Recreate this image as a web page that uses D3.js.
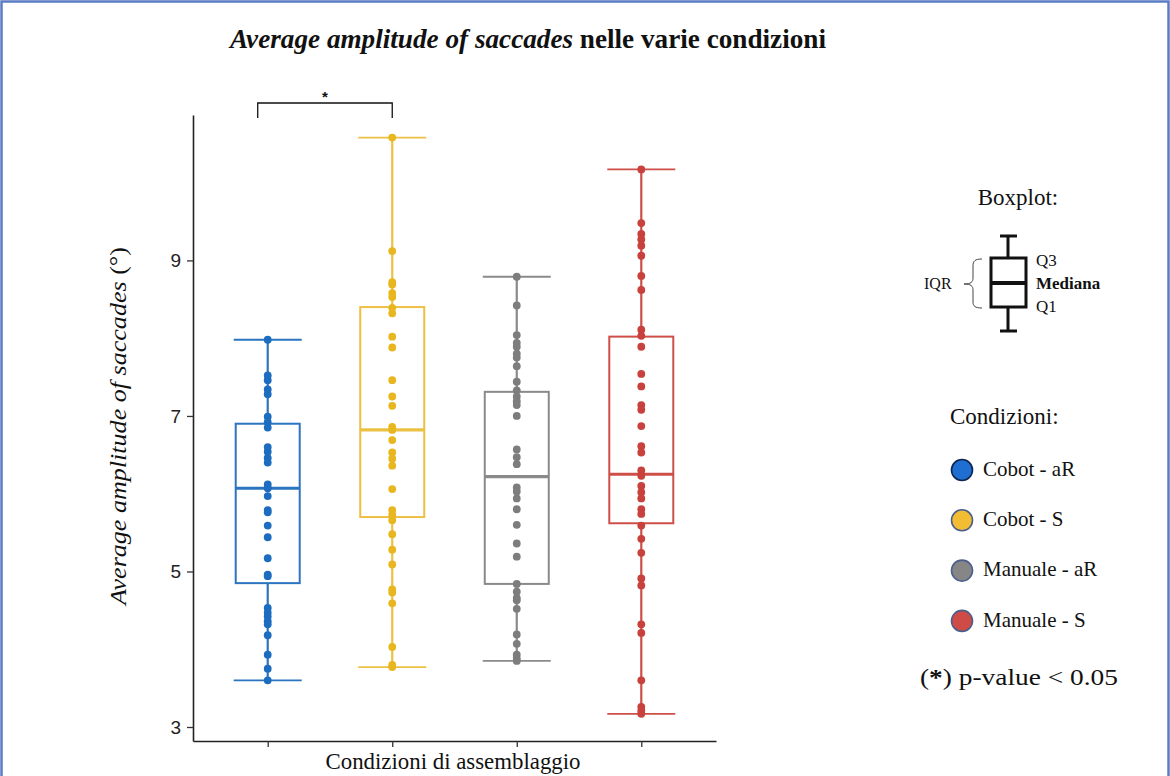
<!DOCTYPE html>
<html>
<head>
<meta charset="utf-8">
<script src="https://cdn.jsdelivr.net/npm/d3@7"></script>
<style>
  html, body { margin: 0; padding: 0; background: #ffffff; }
  svg { display: block; }
</style>
</head>
<body>
<svg id="chart" width="1170" height="776"></svg>
<script>
// Assembly conditions
const categories = ["Cobot - aR", "Cobot - S", "Manuale - aR", "Manuale - S"];

// Individual observations (average saccade amplitude, degrees)
const cobotAR = [7.98, 7.52, 7.46, 7.34, 7.28, 6.99, 6.92, 6.85, 6.60, 6.54, 6.46, 6.40,
  6.12, 6.07, 5.97, 5.79, 5.76, 5.59, 5.44, 5.17, 4.96, 4.94, 4.53, 4.47, 4.42, 4.36,
  4.32, 4.18, 3.93, 3.75, 3.60];
const cobotS = [10.58, 9.12, 8.72, 8.69, 8.58, 8.53, 8.39, 8.32, 8.02, 7.88, 7.46, 7.25,
  7.13, 6.86, 6.82, 6.69, 6.53, 6.45, 6.36, 6.06, 5.79, 5.73, 5.66, 5.48, 5.28, 5.09,
  4.77, 4.73, 4.59, 4.03, 3.80, 3.77];
const manualeAR = [8.79, 8.42, 8.04, 7.94, 7.89, 7.80, 7.75, 7.64, 7.44, 7.33, 7.25, 7.19,
  7.14, 7.00, 6.57, 6.47, 6.38, 6.08, 6.03, 5.94, 5.80, 5.60, 5.36, 5.19, 4.84, 4.74,
  4.66, 4.63, 4.52, 4.19, 4.07, 3.93, 3.88, 3.85];
const manualeS = [10.17, 9.48, 9.34, 9.27, 9.19, 9.06, 8.80, 8.62, 8.11, 8.03, 7.89, 7.54,
  7.38, 7.14, 7.08, 6.87, 6.61, 6.53, 6.30, 6.23, 6.10, 6.02, 5.94, 5.80, 5.74, 5.59,
  5.42, 5.24, 4.91, 4.82, 4.32, 4.21, 3.60, 3.26, 3.21, 3.17];

// Box summaries
const q1Values = [4.85, 5.70, 4.84, 5.62];
const medianValues = [6.07, 6.82, 6.22, 6.25];
const q3Values = [6.90, 8.40, 7.31, 8.02];

const yTicks = [3, 5, 7, 9];

const lineColors = ["#2a74c0", "#ecc043", "#8a8a8a", "#cd4f48"];
const dotColors = ["#1c6cc0", "#e8b61f", "#7d7d7d", "#c8413c"];
const swatchColors = ["#1f6fd2", "#f3bd33", "#868686", "#cf4b45"];

const seriesValues = [cobotAR, cobotS, manualeAR, manualeS];

const svg = d3.select("#chart");
const W = 1170, H = 776;
const serif = "'Liberation Serif', 'Times New Roman', serif";
const sans = "'Liberation Sans', Arial, sans-serif";

// Frame
svg.append("rect")
  .attr("x", 1.5).attr("y", 1.5)
  .attr("width", W - 3).attr("height", H + 20)
  .attr("fill", "none").attr("stroke", "#5b7cc4").attr("stroke-width", 2.5);

// Scales
const x = d3.scalePoint().domain(categories).range([193, 716]).padding(0.6);
const y = d3.scaleLinear().domain([2.82, 10.87]).range([741, 115]);

// Axes
const yAxis = d3.axisLeft(y).tickValues(yTicks).tickSize(6).tickPadding(6).tickSizeOuter(0);
const gy = svg.append("g").attr("transform", "translate(193,0)").call(yAxis);
gy.select(".domain").attr("stroke", "#222").attr("stroke-width", 1.6);
gy.selectAll(".tick line").attr("stroke", "#333").attr("stroke-width", 1.3);
gy.selectAll(".tick text").attr("font-family", sans).attr("font-size", 19).attr("fill", "#222");

const xAxis = d3.axisBottom(x).tickSize(6).tickSizeOuter(0).tickFormat("");
const gx = svg.append("g").attr("transform", "translate(0,741)").call(xAxis);
gx.select(".domain").attr("stroke", "#222").attr("stroke-width", 1.6);
gx.selectAll(".tick line").attr("stroke", "#333").attr("stroke-width", 1.3);

// Boxplots
const boxW = 64, capW = 68;
categories.forEach((c, i) => {
  const cx = x(c);
  const vals = seriesValues[i];
  const [lo, hi] = d3.extent(vals);
  const g = svg.append("g");
  const col = lineColors[i];
  // whiskers
  g.append("line").attr("x1", cx).attr("x2", cx).attr("y1", y(hi)).attr("y2", y(q3Values[i]))
    .attr("stroke", col).attr("stroke-width", 2.2);
  g.append("line").attr("x1", cx).attr("x2", cx).attr("y1", y(q1Values[i])).attr("y2", y(lo))
    .attr("stroke", col).attr("stroke-width", 2.2);
  [lo, hi].forEach(v => {
    g.append("line").attr("x1", cx - capW / 2).attr("x2", cx + capW / 2)
      .attr("y1", y(v)).attr("y2", y(v)).attr("stroke", col).attr("stroke-width", 1.8);
  });
  // box
  g.append("rect").attr("x", cx - boxW / 2).attr("y", y(q3Values[i]))
    .attr("width", boxW).attr("height", y(q1Values[i]) - y(q3Values[i]))
    .attr("fill", "none").attr("stroke", col).attr("stroke-width", 2);
  g.append("line").attr("x1", cx - boxW / 2).attr("x2", cx + boxW / 2)
    .attr("y1", y(medianValues[i])).attr("y2", y(medianValues[i]))
    .attr("stroke", col).attr("stroke-width", 3.2);
  // observations
  g.selectAll("circle").data(vals).join("circle")
    .attr("cx", cx).attr("cy", d => y(d)).attr("r", 3.9)
    .attr("fill", dotColors[i]);
});

// Significance bracket between the first two conditions
const b1 = x(categories[0]) - 10, b2 = x(categories[1]);
svg.append("path")
  .attr("d", `M${b1},118 V103 H${b2} V118`)
  .attr("fill", "none").attr("stroke", "#111").attr("stroke-width", 1.3);
svg.append("text").attr("x", (b1 + b2) / 2).attr("y", 102)
  .attr("text-anchor", "middle").attr("font-family", sans).attr("font-size", 15).attr("font-weight", "bold")
  .attr("fill", "#111").text("*");

// Title
const title = svg.append("text").attr("x", 230).attr("y", 48)
  .attr("font-family", serif).attr("font-size", 27).attr("font-weight", "bold").attr("fill", "#111")
  .attr("textLength", 596).attr("lengthAdjust", "spacingAndGlyphs");
title.append("tspan").attr("font-style", "italic").text("Average amplitude of saccades");
title.append("tspan").text(" nelle varie condizioni");

// Axis titles
const yl = svg.append("text")
  .attr("transform", "translate(126,426) rotate(-90)")
  .attr("text-anchor", "middle").attr("font-family", serif).attr("font-size", 24).attr("fill", "#111")
  .attr("textLength", 358).attr("lengthAdjust", "spacingAndGlyphs");
yl.append("tspan").attr("font-style", "italic").text("Average amplitude of saccades");
yl.append("tspan").text(" (°)");

svg.append("text").attr("x", 453).attr("y", 769)
  .attr("text-anchor", "middle").attr("font-family", serif).attr("font-size", 23).attr("fill", "#111")
  .attr("textLength", 255).attr("lengthAdjust", "spacingAndGlyphs")
  .text("Condizioni di assemblaggio");

// Boxplot key
svg.append("text").attr("x", 1018).attr("y", 205).attr("text-anchor", "middle")
  .attr("font-family", serif).attr("font-size", 23).attr("fill", "#111").text("Boxplot:");
const key = svg.append("g").attr("stroke", "#111").attr("fill", "none");
key.append("line").attr("x1", 1000).attr("x2", 1017).attr("y1", 236).attr("y2", 236).attr("stroke-width", 3);
key.append("line").attr("x1", 1008).attr("x2", 1008).attr("y1", 236).attr("y2", 258).attr("stroke-width", 3);
key.append("rect").attr("x", 991).attr("y", 258).attr("width", 35).attr("height", 49).attr("stroke-width", 3);
key.append("line").attr("x1", 991).attr("x2", 1026).attr("y1", 283).attr("y2", 283).attr("stroke-width", 4);
key.append("line").attr("x1", 1008).attr("x2", 1008).attr("y1", 307).attr("y2", 331).attr("stroke-width", 3);
key.append("line").attr("x1", 1000).attr("x2", 1017).attr("y1", 331).attr("y2", 331).attr("stroke-width", 3);
// brace
key.append("path")
  .attr("d", "M982,259 C975,259 973,261 973,266 L973,278 C973,282 971,284 964,284 C971,284 973,286 973,290 L973,302 C973,306 975,308 982,308")
  .attr("stroke-width", 1).attr("stroke", "#444");
const keyText = [
  { t: "Q3", y: 262, w: "normal" },
  { t: "Mediana", y: 285, w: "bold" },
  { t: "Q1", y: 308, w: "normal" }
];
keyText.forEach(k => {
  svg.append("text").attr("x", 1036).attr("y", k.y).attr("dominant-baseline", "middle")
    .attr("font-family", serif).attr("font-size", 17).attr("font-weight", k.w).attr("fill", "#111").text(k.t);
});
svg.append("text").attr("x", 924).attr("y", 285).attr("dominant-baseline", "middle")
  .attr("font-family", serif).attr("font-size", 16).attr("fill", "#111").text("IQR");

// Condition legend
svg.append("text").attr("x", 950).attr("y", 424)
  .attr("font-family", serif).attr("font-size", 23).attr("fill", "#111").text("Condizioni:");
categories.forEach((c, i) => {
  const ly = 470 + i * 50.3;
  svg.append("circle").attr("cx", 962).attr("cy", ly).attr("r", 10.5)
    .attr("fill", swatchColors[i]).attr("stroke", i === 0 ? "#0e2550" : "#4c5f8c").attr("stroke-width", 1.6);
  svg.append("text").attr("x", 983).attr("y", ly + 1).attr("dominant-baseline", "middle")
    .attr("font-family", serif).attr("font-size", 21).attr("fill", "#111").text(c);
});

// p-value note
const note = svg.append("text").attr("x", 920).attr("y", 685)
  .attr("font-family", serif).attr("font-size", 23).attr("fill", "#111")
  .attr("textLength", 198).attr("lengthAdjust", "spacingAndGlyphs");
note.append("tspan").text("(");
note.append("tspan").attr("font-weight", "bold").text("*");
note.append("tspan").text(") p-value < 0.05");
</script>
</body>
</html>
